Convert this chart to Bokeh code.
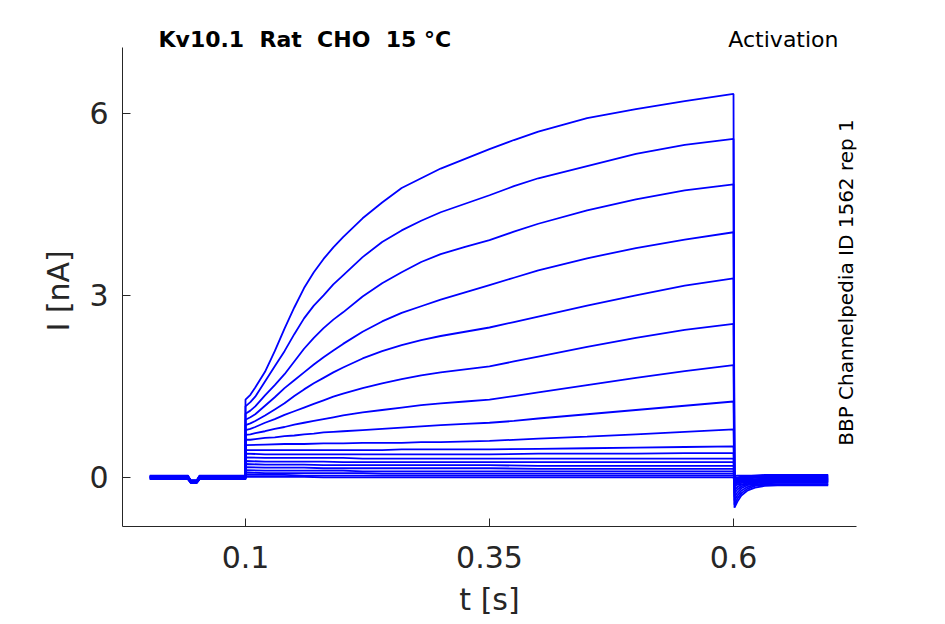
import math
from bokeh.plotting import figure
from bokeh.models import Label, ColumnDataSource, Title
from bokeh.embed import file_html
from bokeh.resources import INLINE

# ---------------- data ----------------
# time points (s)
T_PRE = [0.002, 0.041, 0.044, 0.050, 0.053, 0.100]
# dense sampling for the large, fast-rising traces
T_STEP_FAST = [0.1, 0.105, 0.11, 0.12, 0.13, 0.14, 0.15, 0.16, 0.17, 0.18, 0.19, 0.2,
               0.22, 0.24, 0.26, 0.28, 0.3, 0.325, 0.35, 0.375, 0.4, 0.45, 0.5, 0.55, 0.6]
# coarser sampling for the small, nearly flat traces
T_STEP_SLOW = [0.1, 0.12, 0.14, 0.16, 0.18, 0.2, 0.22, 0.24, 0.26, 0.28, 0.3,
               0.35, 0.4, 0.45, 0.5, 0.55, 0.6]
T_TAIL = [0.601, 0.604, 0.608, 0.614, 0.622, 0.632, 0.645, 0.66, 0.697]

# holding current before the step (nA) and the small artefact dip
PRE_BASE = [0.01, -0.01, 0.02, 0.0, -0.02, 0.01, 0.03, -0.01, 0.0, 0.02,
            -0.03, 0.01, -0.02, 0.0, 0.02, -0.01, 0.01, -0.03, 0.0]
PRE_DIP = [-0.06, -0.08, -0.05, -0.07, -0.09, -0.06, -0.05, -0.08, -0.07, -0.06,
           -0.09, -0.07, -0.08, -0.06, -0.05, -0.07, -0.06, -0.09, -0.07]

# current during the test pulse (nA) for the 8 largest steps (T_STEP_FAST)
STEP_FAST = [
    [1.28, 1.36, 1.48, 1.74, 2.08, 2.45, 2.80, 3.12, 3.38, 3.60, 3.79, 3.96,
     4.27, 4.53, 4.77, 4.93, 5.09, 5.25, 5.41, 5.56, 5.70, 5.92, 6.07, 6.20, 6.32],
    [1.17, 1.24, 1.33, 1.58, 1.83, 2.08, 2.36, 2.62, 2.83, 3.00, 3.18, 3.33,
     3.63, 3.88, 4.07, 4.23, 4.37, 4.51, 4.65, 4.80, 4.93, 5.13, 5.33, 5.48, 5.58],
    [1.05, 1.10, 1.17, 1.35, 1.52, 1.70, 1.91, 2.12, 2.30, 2.46, 2.60, 2.72,
     2.98, 3.20, 3.38, 3.55, 3.68, 3.80, 3.91, 4.05, 4.18, 4.40, 4.58, 4.73, 4.83],
    [0.95, 0.99, 1.04, 1.18, 1.32, 1.47, 1.60, 1.73, 1.86, 1.98, 2.09, 2.20,
     2.40, 2.57, 2.71, 2.82, 2.93, 3.05, 3.17, 3.29, 3.41, 3.61, 3.78, 3.92, 4.04],
    [0.86, 0.89, 0.93, 1.02, 1.12, 1.22, 1.34, 1.45, 1.55, 1.64, 1.73, 1.81,
     1.96, 2.08, 2.18, 2.26, 2.33, 2.40, 2.47, 2.56, 2.65, 2.83, 3.00, 3.16, 3.28],
    [0.78, 0.80, 0.83, 0.90, 0.96, 1.03, 1.09, 1.15, 1.21, 1.27, 1.33, 1.38,
     1.47, 1.55, 1.62, 1.68, 1.73, 1.78, 1.83, 1.91, 1.99, 2.15, 2.30, 2.43, 2.53],
    [0.70, 0.71, 0.73, 0.76, 0.80, 0.83, 0.87, 0.90, 0.93, 0.96, 0.99, 1.02,
     1.07, 1.11, 1.15, 1.19, 1.22, 1.25, 1.28, 1.34, 1.40, 1.52, 1.64, 1.75, 1.85],
    [0.62, 0.62, 0.63, 0.65, 0.66, 0.68, 0.69, 0.71, 0.72, 0.74, 0.75, 0.76,
     0.78, 0.80, 0.82, 0.84, 0.86, 0.88, 0.90, 0.93, 0.97, 1.04, 1.11, 1.18, 1.25],
]

# current during the test pulse (nA) for the 11 smallest steps (T_STEP_SLOW)
STEP_SLOW = [
    [0.53, 0.54, 0.55, 0.55, 0.56, 0.56, 0.57, 0.57, 0.57, 0.58, 0.58, 0.60, 0.64, 0.67, 0.71, 0.75, 0.79],
    [0.45, 0.45, 0.45, 0.45, 0.45, 0.45, 0.45, 0.45, 0.46, 0.46, 0.46, 0.46, 0.47, 0.48, 0.49, 0.50, 0.51],
    [0.39, 0.38, 0.38, 0.38, 0.38, 0.38, 0.38, 0.38, 0.38, 0.38, 0.38, 0.38, 0.39, 0.39, 0.39, 0.40, 0.40],
    [0.33, 0.32, 0.32, 0.32, 0.32, 0.32, 0.31, 0.31, 0.31, 0.31, 0.31, 0.31, 0.31, 0.31, 0.31, 0.31, 0.31],
    [0.27, 0.26, 0.26, 0.26, 0.26, 0.25, 0.25, 0.25, 0.25, 0.25, 0.25, 0.25, 0.25, 0.25, 0.25, 0.25, 0.25],
    [0.22, 0.21, 0.21, 0.21, 0.20, 0.20, 0.20, 0.20, 0.20, 0.20, 0.20, 0.20, 0.19, 0.19, 0.19, 0.19, 0.19],
    [0.17, 0.16, 0.16, 0.16, 0.15, 0.15, 0.15, 0.15, 0.15, 0.15, 0.15, 0.15, 0.14, 0.14, 0.14, 0.14, 0.14],
    [0.12, 0.11, 0.11, 0.11, 0.11, 0.11, 0.10, 0.10, 0.10, 0.10, 0.10, 0.10, 0.10, 0.10, 0.10, 0.10, 0.10],
    [0.08, 0.07, 0.07, 0.07, 0.07, 0.07, 0.07, 0.06, 0.06, 0.06, 0.06, 0.06, 0.06, 0.06, 0.06, 0.06, 0.06],
    [0.04, 0.04, 0.04, 0.03, 0.03, 0.03, 0.03, 0.03, 0.03, 0.03, 0.03, 0.03, 0.03, 0.03, 0.03, 0.03, 0.03],
    [0.01, 0.01, 0.01, 0.01, 0.00, 0.00, 0.00, 0.00, 0.00, 0.00, 0.00, 0.00, 0.00, 0.00, 0.00, 0.00, 0.00],
]

# tail current after the pulse (nA), same order (largest step first)
TAIL = [
    [-0.50, -0.40, -0.30, -0.22, -0.17, -0.14, -0.13, -0.13, -0.13],
    [-0.45, -0.35, -0.26, -0.19, -0.14, -0.12, -0.11, -0.11, -0.11],
    [-0.38, -0.30, -0.22, -0.16, -0.12, -0.10, -0.09, -0.09, -0.09],
    [-0.32, -0.25, -0.18, -0.13, -0.10, -0.08, -0.08, -0.07, -0.07],
    [-0.26, -0.20, -0.15, -0.11, -0.08, -0.07, -0.06, -0.06, -0.06],
    [-0.21, -0.16, -0.12, -0.09, -0.07, -0.05, -0.05, -0.04, -0.04],
    [-0.16, -0.12, -0.09, -0.07, -0.05, -0.04, -0.03, -0.03, -0.03],
    [-0.12, -0.09, -0.07, -0.05, -0.04, -0.03, -0.02, -0.02, -0.02],
    [-0.09, -0.07, -0.05, -0.04, -0.03, -0.02, -0.02, -0.02, -0.02],
    [-0.06, -0.04, -0.03, -0.02, -0.01, -0.01, -0.01, -0.01, -0.01],
    [-0.04, -0.03, -0.02, -0.01, 0.00, 0.00, 0.00, 0.00, 0.00],
    [-0.03, -0.02, -0.01, 0.00, 0.01, 0.01, 0.01, 0.01, 0.01],
    [-0.02, -0.01, 0.00, 0.01, 0.02, 0.02, 0.02, 0.02, 0.02],
    [-0.01, 0.00, 0.01, 0.02, 0.03, 0.03, 0.03, 0.03, 0.03],
    [-0.05, -0.06, -0.07, -0.08, -0.08, -0.08, -0.08, -0.08, -0.08],
    [-0.04, -0.05, -0.05, -0.06, -0.06, -0.06, -0.06, -0.06, -0.06],
    [-0.03, -0.04, -0.04, -0.04, -0.04, -0.04, -0.04, -0.04, -0.04],
    [0.02, 0.03, 0.03, 0.03, 0.03, 0.04, 0.04, 0.04, 0.04],
    [-0.10, -0.11, -0.12, -0.12, -0.12, -0.12, -0.12, -0.12, -0.12],
]

X_TICKS = [0.1, 0.35, 0.6]
X_TICK_LABELS = ["0.1", "0.35", "0.6"]
Y_TICKS = [0, 3, 6]
Y_TICK_LABELS = ["0", "3", "6"]

# double spaces kept visible with a no-break space
TITLE = "Kv10.1\u00a0 Rat\u00a0 CHO\u00a0 15 °C"
PROTOCOL = "Activation"
SIDE_TEXT = "BBP Channelpedia ID 1562 rep 1"
X_LABEL = "t [s]"
Y_LABEL = "I [nA]"

# ---------------- build traces ----------------
steps = [(T_STEP_FAST, s) for s in STEP_FAST] + [(T_STEP_SLOW, s) for s in STEP_SLOW]
xs, ys = [], []
for i, (t_step, s) in enumerate(steps):
    b = PRE_BASE[i]
    d = PRE_DIP[i]
    pre = [b, b, d, d, b, b]
    xs.append(T_PRE + t_step + T_TAIL)
    ys.append(pre + s + TAIL[i])

src = ColumnDataSource(dict(xs=xs, ys=ys))

AX = "#262626"
FONT = "DejaVu Sans"

p = figure(frame_width=734, frame_height=516,
           x_range=(-0.026, 0.726), y_range=(-0.81, 7.695),
           output_backend="svg", toolbar_location=None,
           min_border_left=122, min_border_right=40,
           min_border_top=10, min_border_bottom=10)
p.outline_line_color = None
p.xgrid.visible = False
p.ygrid.visible = False
p.background_fill_color = "white"
p.border_fill_color = "white"

p.multi_line(xs="xs", ys="ys", source=src, line_color="#0000ff", line_width=1.8)

for ax in (p.xaxis[0], p.yaxis[0]):
    ax.axis_line_color = AX
    ax.axis_line_width = 1
    ax.major_tick_line_color = AX
    ax.major_tick_in = 8
    ax.major_tick_out = 0
    ax.minor_tick_line_color = None
    ax.major_label_text_font = FONT
    ax.major_label_text_font_size = "30px"
    ax.major_label_text_color = AX

p.xaxis.ticker = X_TICKS
p.xaxis.major_label_overrides = {k: v for k, v in zip(X_TICKS, X_TICK_LABELS)}
p.xaxis.major_label_standoff = 19
p.xaxis.axis_label = X_LABEL
p.xaxis.axis_label_standoff = 11
p.xaxis.axis_label_text_font = FONT
p.xaxis.axis_label_text_font_size = "30px"
p.xaxis.axis_label_text_font_style = "normal"
p.xaxis.axis_label_text_color = AX

p.yaxis.ticker = Y_TICKS
p.yaxis.bounds = (-0.81, 7.09)
p.yaxis.major_label_overrides = {k: v for k, v in zip(Y_TICKS, Y_TICK_LABELS)}
p.yaxis.major_label_standoff = 14

# y axis title placed in the left side panel, outside the tick labels
p.add_layout(Title(text=Y_LABEL, align="left", offset=195, vertical_align="bottom",
                   standoff=22, text_font=FONT, text_font_size="30px",
                   text_font_style="normal", text_color=AX), "left")

# annotations inside the plot frame (screen units relative to the frame)
p.add_layout(Label(x=36, y=487, x_units="screen", y_units="screen", text=TITLE,
                   text_align="left", text_baseline="middle", text_font_style="bold",
                   text_font=FONT, text_font_size="22px", text_color="black"))
p.add_layout(Label(x=716, y=487, x_units="screen", y_units="screen", text=PROTOCOL,
                   text_align="right", text_baseline="middle",
                   text_font=FONT, text_font_size="22px", text_color="black"))
p.add_layout(Label(x=723, y=244, x_units="screen", y_units="screen", text=SIDE_TEXT,
                   angle=math.pi / 2, text_align="center", text_baseline="middle",
                   text_font=FONT, text_font_size="20px", text_color="black"))

open("out.html", "w").write(file_html(p, INLINE))
